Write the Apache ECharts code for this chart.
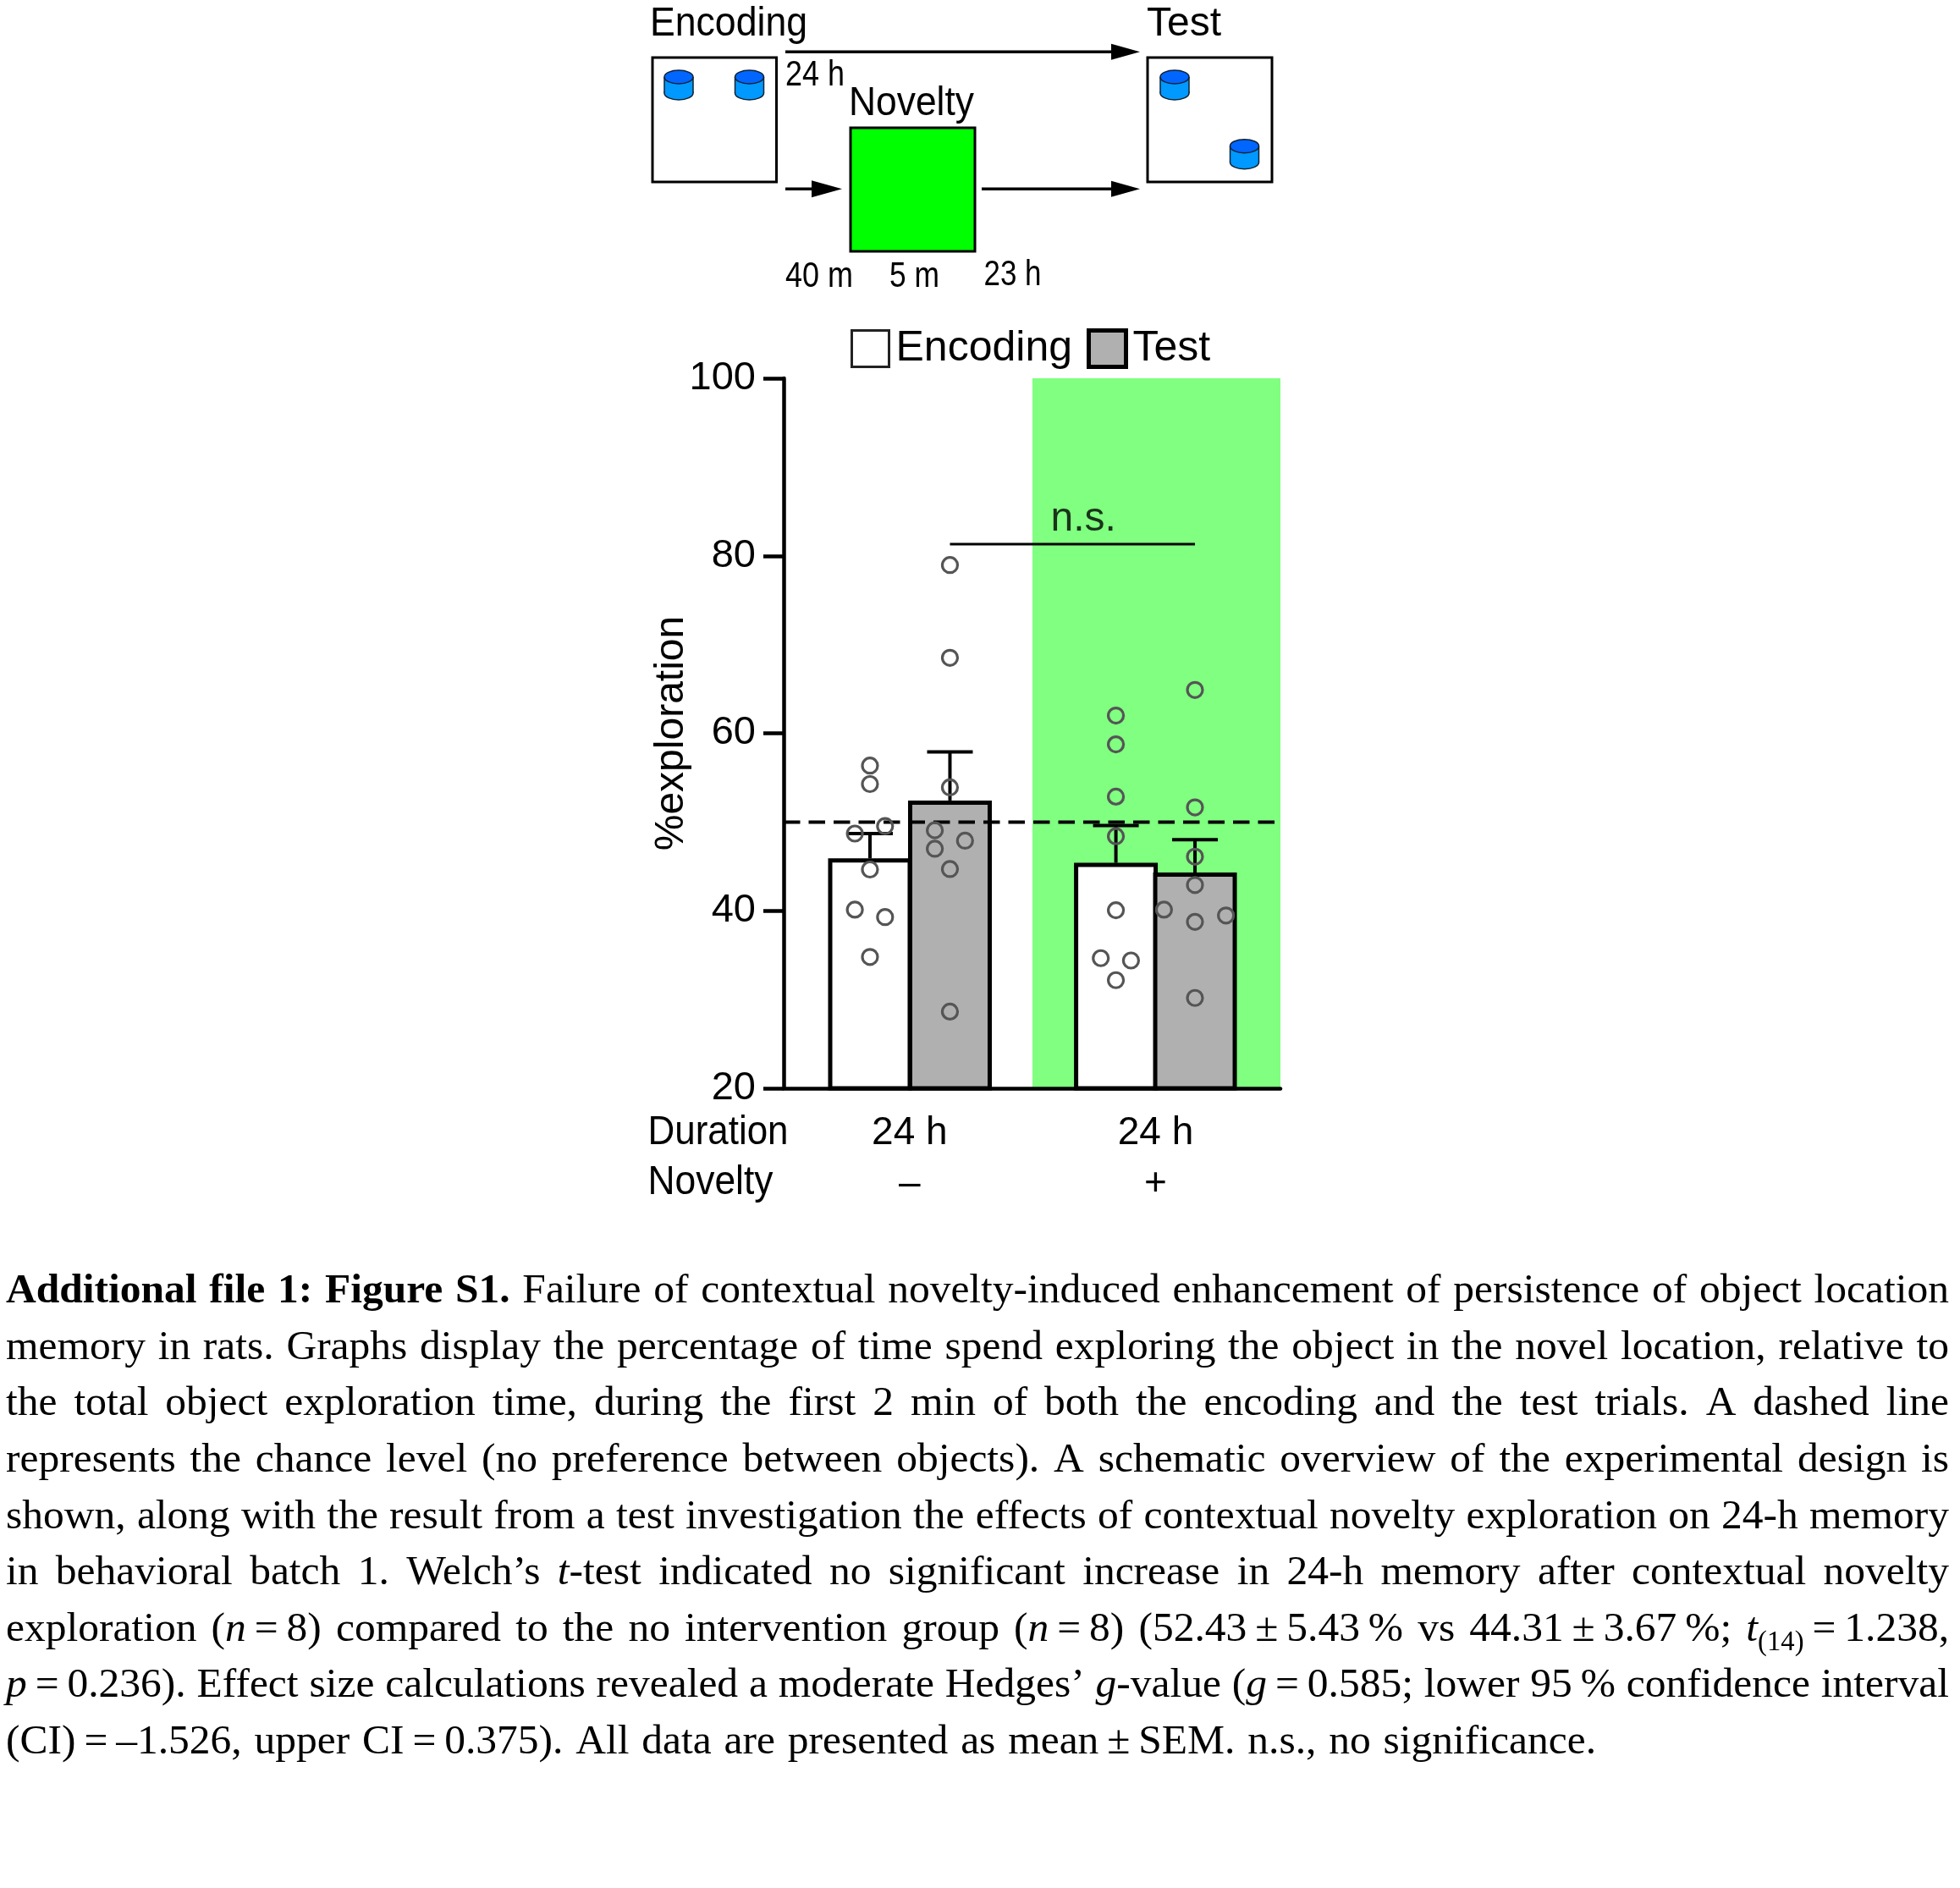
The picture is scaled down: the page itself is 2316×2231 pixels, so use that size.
<!DOCTYPE html>
<html><head><meta charset="utf-8">
<style>html,body{margin:0;padding:0;background:#fff}#c{width:2316px;height:2231px}</style>
<script src="https://cdn.jsdelivr.net/npm/echarts@6/dist/echarts.min.js"></script>
</head><body><div id="c"></div>
<script>
// ---------- data ----------
const groupCentres = [1.585, 4.68];
const durationLabels = ['24 h', '24 h'];
const noveltyLabels = ['–', '+'];
const yTicks = [20, 40, 60, 80, 100];
const xEncoding = [1.086, 4.18];
const xTest = [2.092, 5.175];
const encodingMeans = [45.9, 45.4];
const testMeans = [52.43, 44.31];
const encodingUpper = [48.7, 49.6];
const testUpper = [57.9, 48.0];
const chanceLevel = 50;
const sigLevel = 81.3;
const noveltyBand = [3.13, 6.25];
const dotOffsetsX = [0, 0, 0, 0, -0.19, -0.19, 0.19, 0.19];
const dotsEnc1 = [56.36, 54.28, 44.65, 34.8, 48.7, 40.13, 49.54, 39.29];
const dotsTest1 = [78.96, 68.5, 53.9, 44.7, 28.64, 49.07, 46.99, 47.9];
const dotOffsetsTest1 = [0, 0, 0, 0, 0, -0.19, -0.19, 0.19];
const dotsEnc2 = [62.0, 58.75, 52.86, 48.4, 40.06, 32.18, 34.66, 34.4];
const dotOffsetsEnc2 = [0, 0, 0, 0, 0, 0, -0.19, 0.19];
const dotsTest2 = [64.88, 51.65, 46.1, 42.9, 38.75, 30.18, 40.13, 39.47];
const dotOffsetsTest2 = [0, 0, 0, 0, 0, 0, -0.39, 0.39];
const captionLines = [
 "*Additional file 1: Figure S1.* Failure of contextual novelty-induced enhancement of persistence of object location",
 "memory in rats. Graphs display the percentage of time spend exploring the object in the novel location, relative to",
 "the total object exploration time, during the first 2 min of both the encoding and the test trials. A dashed line",
 "represents the chance level (no preference between objects). A schematic overview of the experimental design is",
 "shown, along with the result from a test investigation the effects of contextual novelty exploration on 24-h memory",
 "in behavioral batch 1. Welch’s _t_-test indicated no significant increase in 24-h memory after contextual novelty",
 "exploration (_n_\u2009=\u20098) compared to the no intervention group (_n_\u2009=\u20098) (52.43\u2009±\u20095.43\u2009% vs 44.31\u2009±\u20093.67\u2009%; _t_~(14)~\u2009=\u20091.238,",
 "_p_\u2009=\u20090.236). Effect size calculations revealed a moderate Hedges’ _g_-value (_g_\u2009=\u20090.585; lower 95\u2009% confidence interval",
 "(CI)\u2009=\u2009–1.526, upper CI\u2009=\u20090.375). All data are presented as mean\u2009±\u2009SEM. n.s., no significance."
];
// ---------- helpers ----------
const SANS = '"Liberation Sans"', SERIF = '"Liberation Serif"';
const ctx = document.createElement('canvas').getContext('2d');
function measure(t, size, fam, weight, style) {
  ctx.font = (style || 'normal') + ' ' + (weight || 'normal') + ' ' + size + 'px ' + fam;
  return ctx.measureText(t).width;
}
function txt(t, x, base, size, fam, weight, style, scaleX) {
  return {type:'text', x:x, y:base - 0.28*size, scaleX:scaleX||1, silent:true, z:10,
    style:{text:t, fontFamily:fam, fontSize:size, fontWeight:weight||'normal', fontStyle:style||'normal',
      fill:'#000', align:'left', verticalAlign:'middle'}};
}
function label(t, x, base, size, targetW) {
  return txt(t, x, base, size, SANS, 'normal', 'normal', targetW / measure(t, size, SANS));
}
function box(x, y, w, h, fill, lw) {
  return {type:'rect', z:6, shape:{x:x,y:y,width:w,height:h}, style:{fill:fill, stroke:'#000', lineWidth:lw}};
}
function arrow(x0, x1, tip, y, hh) {
  return [
    {type:'line', z:6, shape:{x1:x0,y1:y,x2:x1+2,y2:y}, style:{stroke:'#000', lineWidth:3.5}},
    {type:'polygon', z:6, shape:{points:[[x1,y-hh],[tip,y],[x1,y+hh]]}, style:{fill:'#000'}}
  ];
}
function cylinder(cx, topY) {
  const rx=17, ry=8, bot=topY+19;
  return [
    {type:'ellipse', z:7, shape:{cx:cx,cy:bot,rx:rx,ry:ry}, style:{fill:'#0099ff', stroke:'#123', lineWidth:1.5}},
    {type:'rect', z:7, shape:{x:cx-rx,y:topY,width:2*rx,height:19}, style:{fill:'#0099ff'}},
    {type:'line', z:7, shape:{x1:cx-rx,y1:topY,x2:cx-rx,y2:bot}, style:{stroke:'#123', lineWidth:1.5}},
    {type:'line', z:7, shape:{x1:cx+rx,y1:topY,x2:cx+rx,y2:bot}, style:{stroke:'#123', lineWidth:1.5}},
    {type:'ellipse', z:7, shape:{cx:cx,cy:topY,rx:rx,ry:ry}, style:{fill:'#0066ff', stroke:'#123', lineWidth:1.5}}
  ];
}
function captionElements() {
  const out = [], size = 49.5, left = 7, right = 2303, lastRight = 1886;
  captionLines.forEach(function (line, li) {
    let bold=false, ital=false, sub=false, words=[[]], cur='';
    const push = function () {
      if (cur) words[words.length-1].push({t:cur,b:bold,i:ital,s:sub});
      cur='';
    };
    for (const ch of line) {
      if (ch==='*') { push(); bold=!bold; }
      else if (ch==='_') { push(); ital=!ital; }
      else if (ch==='~') { push(); sub=!sub; }
      else if (ch===' ') { push(); words.push([]); }
      else cur+=ch;
    }
    push();
    let total=0;
    words.forEach(function (w) {
      w.forEach(function (r) { r.w = measure(r.t, r.s?size*0.66:size, SERIF, r.b?'bold':'normal', r.i?'italic':'normal'); total+=r.w; });
    });
    const W = (li===captionLines.length-1?lastRight:right) - left;
    const minGap = size*0.16, n = words.length-1;
    const sx = total + minGap*n > W ? (W - minGap*n)/total : 1;
    const gap = (W - total*sx)/n;
    const base = 1540 + li*66.6;
    let x = left;
    words.forEach(function (w) {
      w.forEach(function (r) {
        const sz = r.s?size*0.66:size;
        out.push(txt(r.t, x, base + (r.s?11:0), sz, SERIF, r.b?'bold':'normal', r.i?'italic':'normal', sx));
        x += r.w*sx;
      });
      x += gap;
    });
  });
  return out;
}
const schematic = [].concat(
  [box(771,68,146.5,147,'#fff',3), box(1356,68,147,147,'#fff',3), box(1005,151,147,146,'#00ff00',3)],
  cylinder(802,91), cylinder(885.5,91), cylinder(1388,91), cylinder(1470.5,172.7),
  arrow(928,1313,1347,61.3,9.5), arrow(928,959,995,223.3,10), arrow(1160,1313,1347,223.3,9.5),
  [label('Encoding',768,42,48,186), label('Test',1355,42,48,88), label('24 h',928,101,43,70),
   label('Novelty',1003,136,48,148), label('40 m',928,339,43,80), label('5 m',1051,339,43,59),
   label('23 h',1162.5,337,43,68), label('Duration',765.5,1352,48,166), label('Novelty',765.5,1411,48,148)],
  captionElements()
);
// ---------- chart ----------
const chart = echarts.init(document.getElementById('c'), null, {renderer:'canvas', width:2316, height:2231});
const dot = function (xc, offs, vals) { return vals.map(function (v,i){ return [xc+offs[i], v]; }); };
const gc = function (v) { return groupCentres.findIndex(function (g){ return Math.abs(g-v)<1e-6; }); };
chart.setOption({
  animation:false,
  backgroundColor:'#fff',
  textStyle:{fontFamily:SANS, color:'#000'},
  grid:{left:926, top:447, width:587, height:839, containLabel:false},
  legend:{left:1005, top:387, padding:0, itemWidth:44, itemHeight:43, itemGap:17, selectedMode:false,
    textStyle:{fontSize:50, fontFamily:SANS, color:'#000', padding:[2,0,0,3]},
    data:[{name:'Encoding', icon:'rect', itemStyle:{color:'#fff', borderColor:'#222', borderWidth:3}},
          {name:'Test', icon:'rect', itemStyle:{color:'#b0b0b0', borderColor:'#000', borderWidth:5}}]},
  xAxis:{type:'value', min:0, max:6.25, z:5, splitLine:{show:false},
    axisLine:{show:true, onZero:false, lineStyle:{color:'#000', width:4.5}},
    axisTick:{show:false},
    axisLabel:{show:true, customValues:groupCentres, margin:24, interval:0, hideOverlap:false, showMinLabel:true, showMaxLabel:true,
      fontSize:46, fontFamily:SANS, color:'#000', lineHeight:59.5, align:'center',
      formatter:function (v) { const i=gc(v); return i<0?'':durationLabels[i]+'\n'+noveltyLabels[i]; }}},
  yAxis:{type:'value', min:yTicks[0], max:yTicks[yTicks.length-1], interval:20, z:5, splitLine:{show:false},
    name:'%exploration', nameLocation:'middle', nameGap:108, nameRotate:90, nameMoveOverlap:false,
    nameTextStyle:{fontSize:48, fontFamily:SANS, color:'#000'},
    axisLine:{show:true, lineStyle:{color:'#000', width:4.5}},
    axisTick:{show:true, length:24, lineStyle:{color:'#000', width:4.5}},
    axisLabel:{margin:33, fontSize:47, fontFamily:SANS, color:'#000', padding:[6,0,0,0]}},
  graphic:{elements:schematic},
  series:[
    {type:'custom', name:'Novelty period', z:-1, silent:true, clip:false, data:[noveltyBand],
      encode:{x:[0,1]},
      renderItem:function (p, api) {
        const a=api.coord([api.value(0),100]), b=api.coord([api.value(1),20]);
        return {type:'rect', shape:{x:a[0],y:a[1],width:b[0]-a[0],height:b[1]-a[1]}, style:{fill:'#80ff80'}};
      }},
    {type:'custom', name:'SEM', z:1, silent:true, clip:false,
      data:xEncoding.map(function(x,i){return [x,encodingMeans[i],encodingUpper[i]];})
        .concat(xTest.map(function(x,i){return [x,testMeans[i],testUpper[i]];})),
      encode:{x:0,y:[1,2]},
      renderItem:function (p, api) {
        const a=api.coord([api.value(0),api.value(1)]), b=api.coord([api.value(0),api.value(2)]);
        const st={stroke:'#000', lineWidth:4};
        return {type:'group', children:[
          {type:'line', shape:{x1:a[0],y1:a[1],x2:b[0],y2:b[1]}, style:st},
          {type:'line', shape:{x1:b[0]-27,y1:b[1],x2:b[0]+27,y2:b[1]}, style:st}]};
      }},
    {type:'bar', name:'Encoding', z:2, barWidth:99, barGap:'-100%', clip:true,
      data:xEncoding.map(function(x,i){return [x,encodingMeans[i]];}),
      itemStyle:{color:'#fff', borderColor:'#000', borderWidth:5}},
    {type:'bar', name:'Test', z:2, barWidth:99, barGap:'-100%', clip:true,
      data:xTest.map(function(x,i){return [x,testMeans[i]];}),
      itemStyle:{color:'#b0b0b0', borderColor:'#000', borderWidth:5}},
    {type:'line', name:'Chance level', z:3, symbol:'none', silent:true, clip:false,
      data:[[0,chanceLevel],[6.25,chanceLevel]],
      lineStyle:{color:'#000', width:4, type:[19.5,10]}},
    {type:'line', name:'n.s. bracket', z:3, symbol:'none', silent:true,
      data:[[xTest[0],sigLevel],[xTest[1],sigLevel]],
      lineStyle:{color:'#000', width:3}},
    {type:'scatter', name:'n.s. label', z:3, symbolSize:0, silent:true,
      data:[[(xTest[0]+xTest[1])/2, sigLevel]],
      label:{show:true, position:'top', distance:0, formatter:'n.s.', fontSize:48, fontFamily:SANS, color:'#000', offset:[13,-5]}},
    {type:'scatter', name:'Rats', z:4, symbol:'circle', symbolSize:18, silent:true,
      data:[].concat(dot(xEncoding[0],dotOffsetsX,dotsEnc1), dot(xTest[0],dotOffsetsTest1,dotsTest1),
                     dot(xEncoding[1],dotOffsetsEnc2,dotsEnc2), dot(xTest[1],dotOffsetsTest2,dotsTest2)),
      itemStyle:{color:'rgba(0,0,0,0)', borderColor:'#555', borderWidth:3.2, opacity:1}}
  ]
});
</script></body></html>
